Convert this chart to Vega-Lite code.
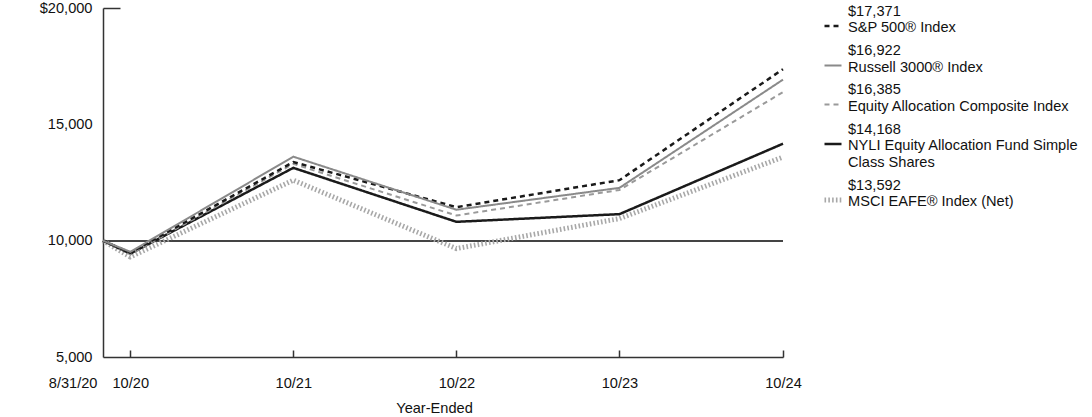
{
  "$schema": "https://vega.github.io/schema/vega-lite/v6.json",
  "width": 680,
  "height": 349,
  "autosize": "none",
  "padding": {"left": 103, "top": 8, "right": 309, "bottom": 60},
  "config": {"view": {"stroke": null}, "font": "Liberation Sans"},
  "data": {
    "values": [
      {"series": "MSCI EAFE® Index (Net)", "date": "2020-08-31", "value": 10000},
      {"series": "MSCI EAFE® Index (Net)", "date": "2020-10-31", "value": 9300},
      {"series": "MSCI EAFE® Index (Net)", "date": "2021-10-31", "value": 12600},
      {"series": "MSCI EAFE® Index (Net)", "date": "2022-10-31", "value": 9660},
      {"series": "MSCI EAFE® Index (Net)", "date": "2023-10-31", "value": 10950},
      {"series": "MSCI EAFE® Index (Net)", "date": "2024-10-31", "value": 13592},
      {"series": "NYLI Equity Allocation Fund Simple Class Shares", "date": "2020-08-31", "value": 10000},
      {"series": "NYLI Equity Allocation Fund Simple Class Shares", "date": "2020-10-31", "value": 9440},
      {"series": "NYLI Equity Allocation Fund Simple Class Shares", "date": "2021-10-31", "value": 13130},
      {"series": "NYLI Equity Allocation Fund Simple Class Shares", "date": "2022-10-31", "value": 10810},
      {"series": "NYLI Equity Allocation Fund Simple Class Shares", "date": "2023-10-31", "value": 11140},
      {"series": "NYLI Equity Allocation Fund Simple Class Shares", "date": "2024-10-31", "value": 14168},
      {"series": "Equity Allocation Composite Index", "date": "2020-08-31", "value": 10000},
      {"series": "Equity Allocation Composite Index", "date": "2020-10-31", "value": 9420},
      {"series": "Equity Allocation Composite Index", "date": "2021-10-31", "value": 13300},
      {"series": "Equity Allocation Composite Index", "date": "2022-10-31", "value": 11080},
      {"series": "Equity Allocation Composite Index", "date": "2023-10-31", "value": 12180},
      {"series": "Equity Allocation Composite Index", "date": "2024-10-31", "value": 16385},
      {"series": "S&P 500® Index", "date": "2020-08-31", "value": 10000},
      {"series": "S&P 500® Index", "date": "2020-10-31", "value": 9480},
      {"series": "S&P 500® Index", "date": "2021-10-31", "value": 13380},
      {"series": "S&P 500® Index", "date": "2022-10-31", "value": 11440},
      {"series": "S&P 500® Index", "date": "2023-10-31", "value": 12600},
      {"series": "S&P 500® Index", "date": "2024-10-31", "value": 17371},
      {"series": "Russell 3000® Index", "date": "2020-08-31", "value": 10000},
      {"series": "Russell 3000® Index", "date": "2020-10-31", "value": 9520},
      {"series": "Russell 3000® Index", "date": "2021-10-31", "value": 13610},
      {"series": "Russell 3000® Index", "date": "2022-10-31", "value": 11330},
      {"series": "Russell 3000® Index", "date": "2023-10-31", "value": 12270},
      {"series": "Russell 3000® Index", "date": "2024-10-31", "value": 16922}
    ]
  },
  "layer": [
    {
      "mark": {"type": "rule", "color": "#444444", "strokeWidth": 1.5},
      "encoding": {
        "y": {"datum": 10000, "type": "quantitative", "scale": {"domain": [5000, 20000], "zero": false}}
      }
    },
    {
      "mark": {"type": "line", "strokeCap": "butt", "strokeJoin": "miter"},
      "encoding": {
        "x": {
          "field": "date",
          "type": "temporal",
          "scale": {
            "type": "utc",
            "domain": [
              {"year": 2020, "month": "aug", "date": 31, "utc": true},
              {"year": 2024, "month": "oct", "date": 31, "utc": true}
            ]
          },
          "axis": {
            "values": [
              {"year": 2020, "month": "aug", "date": 31, "utc": true},
              {"year": 2020, "month": "oct", "date": 31, "utc": true},
              {"year": 2021, "month": "oct", "date": 31, "utc": true},
              {"year": 2022, "month": "oct", "date": 31, "utc": true},
              {"year": 2023, "month": "oct", "date": 31, "utc": true},
              {"year": 2024, "month": "oct", "date": 31, "utc": true}
            ],
            "title": "Year-Ended",
            "titleFontSize": 14.6,
            "titleFontWeight": "normal",
            "titleColor": "#111111",
            "titlePadding": 11,
            "titleX": 331,
            "labelExpr": "datum.value < 1600000000000 ? '8/31/20' : utcFormat(datum.value, '%m/%y')",
            "labelAlign": {"condition": {"test": "datum.value < 1600000000000", "value": "right"}, "value": "center"},
            "labelOffset": {"condition": {"test": "datum.value < 1600000000000", "value": -6}, "value": 0},
            "labelFontSize": 14.6,
            "labelColor": "#111111",
            "labelPadding": 25,
            "labelBaseline": "top",
            "labelFlush": false,
            "labelOverlap": false,
            "grid": false,
            "domainColor": "#333333",
            "domainWidth": 1.5,
            "tickColor": "#333333",
            "tickWidth": 1.5,
            "tickSize": -7,
            "tickOpacity": {"condition": {"test": "datum.value < 1600000000000", "value": 0}, "value": 1}
          }
        },
        "y": {
          "field": "value",
          "type": "quantitative",
          "scale": {"domain": [5000, 20000], "zero": false},
          "axis": {
            "values": [5000, 10000, 15000, 20000],
            "title": null,
            "labelExpr": "datum.value == 20000 ? '$20,000' : format(datum.value, ',')",
            "labelFontSize": 14.6,
            "labelColor": "#111111",
            "labelPadding": 28,
            "labelFlush": false,
            "labelOverlap": false,
            "grid": false,
            "domainColor": "#333333",
            "domainWidth": 1.5,
            "tickColor": "#333333",
            "tickWidth": 1.5,
            "tickSize": -17,
            "tickOpacity": {"condition": {"test": "datum.value == 20000", "value": 1}, "value": 0}
          }
        },
        "color": {
          "field": "series",
          "type": "nominal",
          "scale": {
            "domain": ["S&P 500® Index", "Russell 3000® Index", "Equity Allocation Composite Index", "NYLI Equity Allocation Fund Simple Class Shares", "MSCI EAFE® Index (Net)"],
            "range": ["#1a1a1a", "#8a8a8a", "#9a9a9a", "#1a1a1a", "#a8a8a8"]
          },
          "legend": {
            "orient": "none",
            "legendX": 719,
            "legendY": 8,
            "title": null,
            "symbolType": "stroke",
            "symbolSize": 289,
            "labelFontSize": 14.6,
            "labelColor": "#111111",
            "labelLimit": 320,
            "labelLineHeight": 14.2,
            "labelOffset": 4,
            "rowPadding": 7,
            "labelExpr": "datum.label == 'S&P 500® Index' ? ['$17,371', datum.label] : datum.label == 'Russell 3000® Index' ? ['$16,922', datum.label] : datum.label == 'Equity Allocation Composite Index' ? ['$16,385', datum.label] : datum.label == 'MSCI EAFE® Index (Net)' ? ['$13,592', datum.label] : ['$14,168', 'NYLI Equity Allocation Fund Simple', 'Class Shares']",
            "encode": {"labels": {"update": {"dy": {"value": -14.2}}}}
          }
        },
        "strokeDash": {
          "field": "series",
          "type": "nominal",
          "scale": {
            "domain": ["S&P 500® Index", "Russell 3000® Index", "Equity Allocation Composite Index", "NYLI Equity Allocation Fund Simple Class Shares", "MSCI EAFE® Index (Net)"],
            "range": [[5, 4], [1, 0], [5, 4], [1, 0], [1.6, 2.2]]
          }
        },
        "strokeWidth": {
          "field": "series",
          "type": "ordinal",
          "scale": {
            "type": "ordinal",
            "domain": ["S&P 500® Index", "Russell 3000® Index", "Equity Allocation Composite Index", "NYLI Equity Allocation Fund Simple Class Shares", "MSCI EAFE® Index (Net)"],
            "range": [2.5, 2, 2, 2.5, 5]
          }
        }
      }
    }
  ]
}
